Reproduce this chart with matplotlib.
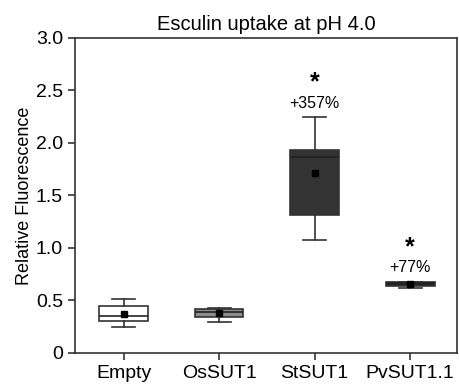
import matplotlib
matplotlib.use("Agg")
import matplotlib.pyplot as plt

plt.rcParams['font.family'] = ['Liberation Sans', 'DejaVu Sans']

# данные
groups = ["Empty", "OsSUT1", "StSUT1", "PvSUT1.1"]
whislo = [0.245, 0.295, 1.08, 0.62]
q1 = [0.305, 0.345, 1.31, 0.636]
med = [0.355, 0.39, 1.87, 0.665]
q3 = [0.45, 0.42, 1.93, 0.68]
whishi = [0.51, 0.43, 2.245, 0.68]
mean = [0.375, 0.38, 1.71, 0.66]
colors = ["white", "#8c8c8c", "#333333", "#222222"]
labels_pct = ["", "", "+357%", "+77%"]

stats = []
for i in range(len(groups)):
    stats.append({"label": groups[i], "whislo": whislo[i], "q1": q1[i], "med": med[i],
                  "q3": q3[i], "whishi": whishi[i], "mean": mean[i], "fliers": []})

fig = plt.figure(figsize=(4.59, 3.87), dpi=100)
ax = fig.add_axes([0.163, 0.088, 0.8326, 0.814])

bp = ax.bxp(stats, positions=[1, 2, 3, 4], widths=0.51, showmeans=True, patch_artist=True,
            boxprops=dict(edgecolor="#333333", linewidth=1.2),
            medianprops=dict(color="#222222", linewidth=1.2),
            whiskerprops=dict(color="#333333", linewidth=1.2),
            capprops=dict(color="#333333", linewidth=1.2),
            meanprops=dict(marker="s", markerfacecolor="black", markeredgecolor="black", markersize=5))
for patch, c in zip(bp["boxes"], colors):
    patch.set_facecolor(c)
for cap in bp["caps"]:
    x = cap.get_xdata()
    mid = (x[0] + x[1]) / 2
    cap.set_xdata([mid - 0.12, mid + 0.12])

# звёздочки и проценты
for i, txt in enumerate(labels_pct):
    if txt:
        top = whishi[i]
        ax.text(i + 1, top + 0.135, txt, ha="center", va="center", fontsize=11.5)
        ax.text(i + 1, top + 0.33, "*", ha="center", va="center", fontsize=18, fontweight="bold")

ax.set_xlim(0.49, 4.49)
ax.set_ylim(0, 3.0)
ax.set_yticks([0, 0.5, 1.0, 1.5, 2.0, 2.5, 3.0])
ax.set_yticklabels(["0", "0.5", "1.0", "1.5", "2.0", "2.5", "3.0"])
ax.tick_params(axis="both", labelsize=14, length=5, width=1.2, color="#333333", direction="out")
for s in ax.spines.values():
    s.set_color("#333333")
    s.set_linewidth(1.2)
ax.set_ylabel("Relative Fluorescence", fontsize=13, labelpad=2)
ax.set_title("Esculin uptake at pH 4.0", fontsize=14.5, pad=6)

fig.savefig("out.png", dpi=100)
